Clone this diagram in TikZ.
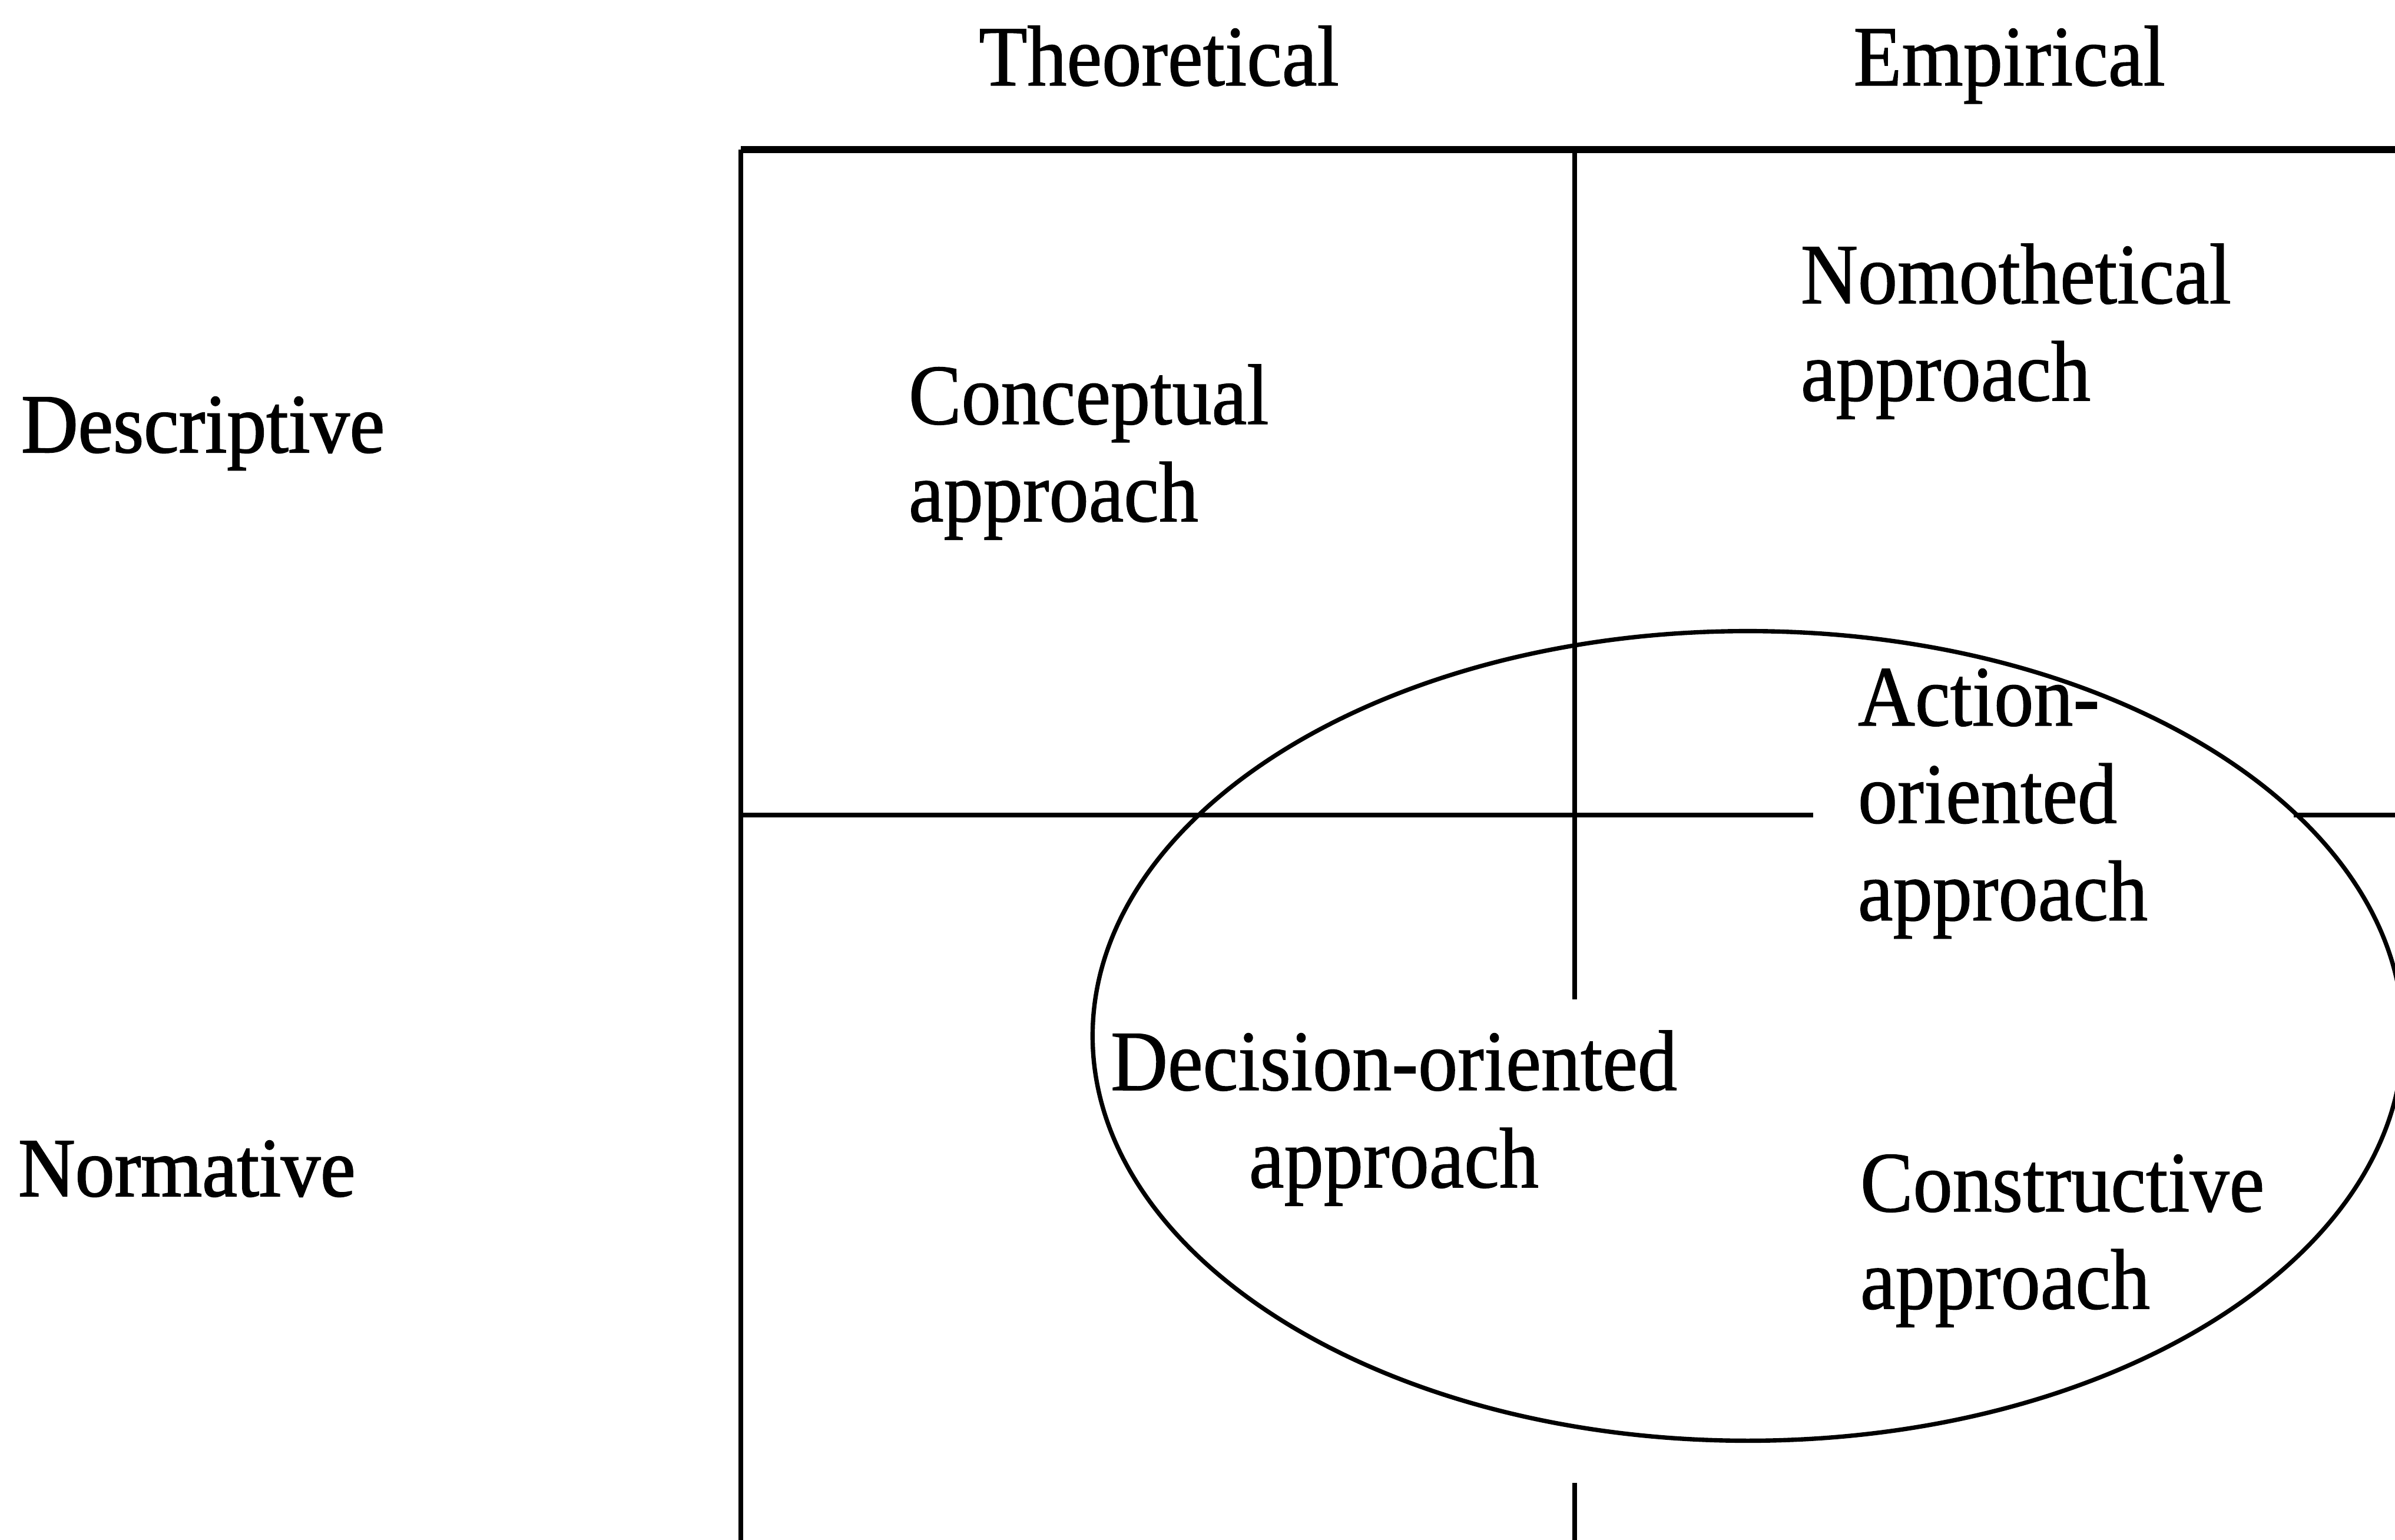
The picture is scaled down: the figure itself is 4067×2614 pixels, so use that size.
\documentclass[tikz,border=0pt]{standalone}
\usepackage{fontspec}
\setmainfont{Liberation Serif}[FakeStretch=0.92,FakeBold=0.9]
\newfontfamily\rowfont{Liberation Serif}[FakeStretch=0.94,FakeBold=1.4]
% stacked lines with a fixed baseline distance; the box baseline is the first line
\newcommand\linesL[1]{\vtop{\baselineskip=47pt\lineskiplimit=-100pt\halign{##\hfil\cr #1\crcr}}}
\newcommand\linesC[1]{\vtop{\baselineskip=47pt\lineskiplimit=-100pt\halign{\hfil##\hfil\cr #1\crcr}}}
\begin{document}
\begin{tikzpicture}[x=0.01cm,y=-0.01cm,
  lbl/.style={inner sep=0pt,outer sep=0pt,font=\fontsize{41.5}{47}\selectfont},
  rowlbl/.style={lbl,font=\rowfont\fontsize{40.5}{47}\selectfont},
  grid/.style={line width=2.3pt,line cap=butt},
  topline/.style={line width=3.2pt,line cap=butt},
  ring/.style={line width=2.1pt}]
\useasboundingbox (0,0) rectangle (4067,2614);
\fill[white] (0,0) rectangle (4067,2614);
\clip (0,0) rectangle (4067,2614);

% grid corners and line ends
\coordinate (tl) at (1258,254);
\coordinate (tr) at (4100,254);
\coordinate (bl) at (1258,2640);
\coordinate (mt) at (2674,254);
\coordinate (mgapA) at (2674,1697);
\coordinate (mgapB) at (2674,2518);
\coordinate (mb) at (2674,2640);
\coordinate (hl) at (1258,1384);
\coordinate (hgapA) at (3079,1384);
\coordinate (hgapB) at (3895,1384);
\coordinate (hr) at (4100,1384);

% frame and dividers
\draw[topline] (tl) -- (tr);
\draw[grid] (tl) -- (bl);
\draw[grid] (mt) -- (mgapA);
\draw[grid] (mgapB) -- (mb);
\draw[grid] (hl) -- (hgapA);
\draw[grid] (hgapB) -- (hr);

% ellipse grouping the normative-empirical approaches
\draw[ring] (2968,1759) ellipse [x radius=11.12cm, y radius=6.87cm];

% column and row headings
\node[lbl,anchor=base] (theo) at (1968,145) {Theoretical};
\node[lbl,anchor=base] (emp) at (3412,145) {Empirical};
\node[rowlbl,anchor=base west] (desc) at (36,768) {Descriptive};
\node[rowlbl,anchor=base west] (norm) at (31,2031) {Normative};

% approaches
\node[lbl,anchor=base west] (concept) at (1543,720) {\linesL{Conceptual\cr approach}};
\node[lbl,anchor=base west] (nomo) at (3058,515) {\linesL{Nomothetical\cr approach}};
\node[lbl,anchor=base west] (action) at (3155,1232) {\linesL{Action-\cr oriented\cr approach}};
\node[lbl,anchor=base] (decision) at (2367,1851) {\linesC{Decision-oriented\cr approach}};
\node[lbl,anchor=base west] (constr) at (3159,2057) {\linesL{Constructive\cr approach}};
\end{tikzpicture}
\end{document}
